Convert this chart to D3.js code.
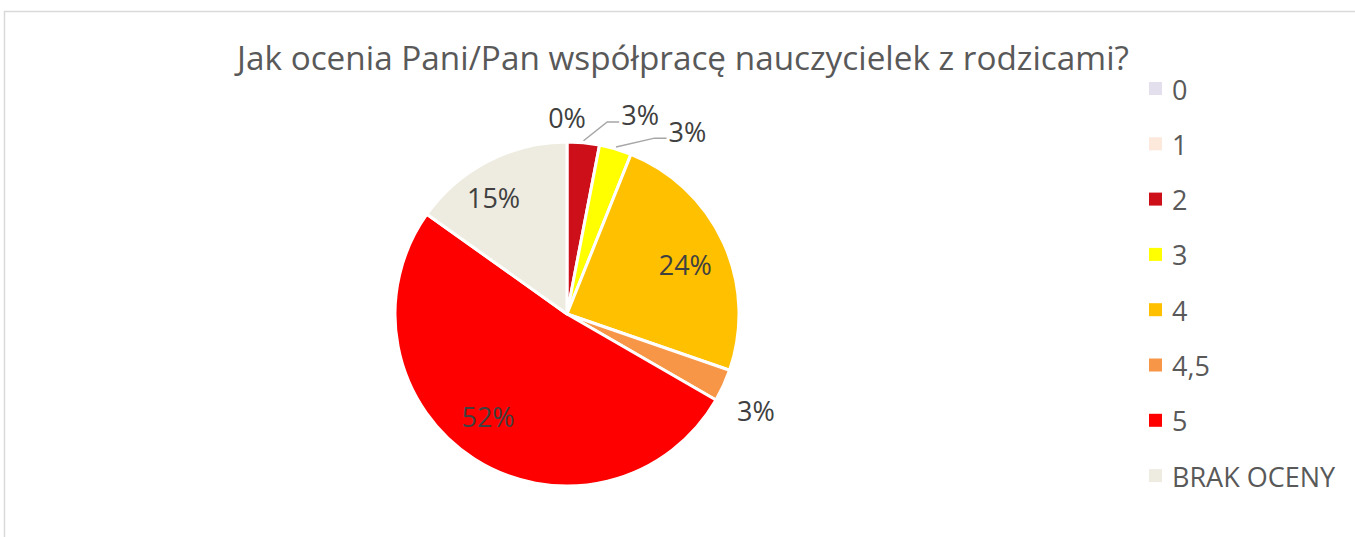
<!DOCTYPE html>
<html>
<head>
<meta charset="utf-8">
<script src="https://cdn.jsdelivr.net/npm/d3@7"></script>
<style>
  body { margin: 0; background: #fff; }
  svg text { font-family: "Open Sans", sans-serif; }
</style>
</head>
<body>
<div id="chart"></div>
<script>
// data (liczba odpowiedzi w kategorii)
var categories = ["0", "1", "2", "3", "4", "4,5", "5", "BRAK OCENY"];
var counts = [0, 0, 1, 1, 8, 1, 17, 5];
var colors = ["#e4dfec", "#fce9db", "#cc0f18", "#ffff00", "#ffc000", "#f79646", "#ff0000", "#eeece1"];
var title = "Jak ocenia Pani/Pan współpracę nauczycielek z rodzicami?";

var width = 1355;
var height = 537;
var cx = 567, cy = 314, radius = 172;

// label placement (angle shift in deg from slice middle, radius factor), like excel best fit
var labelPos = {
    "0": { shift: 0, rf: 1.145 },
    "1": { hidden: true },
    "2": { shift: 14.7, rf: 1.233, leader: true },
    "3": { shift: 17, rf: 1.273, leader: true },
    "4": { shift: 2, rf: 0.745 },
    "4,5": { shift: 2.5, rf: 1.233 },
    "5": { shift: 5, rf: 0.75 },
    "BRAK OCENY": { shift: -5, rf: 0.8 }
};

var svg = d3.select("#chart").append("svg")
    .attr("width", width)
    .attr("height", height);

// chart frame
svg.append("rect")
    .attr("x", 4.5).attr("y", 11.5)
    .attr("width", width + 10).attr("height", height + 10)
    .attr("fill", "none")
    .attr("stroke", "#d9d9d9")
    .attr("stroke-width", 1.5);

svg.append("text")
    .attr("x", 683).attr("y", 57)
    .attr("text-anchor", "middle")
    .attr("dominant-baseline", "central")
    .attr("fill", "#595959")
    .style("font-size", "33.3px")
    .text(title);

var total = d3.sum(counts);
var data = categories.map(function(c, i) { return { cat: c, value: counts[i], color: colors[i] }; });

var pie = d3.pie().sort(null).value(d => d.value);
var arc = d3.arc().innerRadius(0).outerRadius(radius);
var arcs = pie(data);

var g = svg.append("g").attr("transform", `translate(${cx}, ${cy})`);

g.selectAll("path.slice")
    .data(arcs).enter()
    .append("path")
    .attr("class", "slice")
    .attr("d", arc)
    .attr("fill", d => d.data.color)
    .attr("stroke", "#fff")
    .attr("stroke-width", 3)
    .attr("stroke-linejoin", "round");

function polar(angle, r) {
    return [Math.sin(angle) * r, -Math.cos(angle) * r];
}

arcs.forEach(function(d) {
    var mid = (d.startAngle + d.endAngle) / 2;
    var pct = Math.round(d.data.value / total * 100) + "%";
    var opt = labelPos[d.data.cat];
    if (opt.hidden) return;
    var pos = polar(mid + opt.shift * Math.PI / 180, opt.rf * radius);
    var t = g.append("text")
        .attr("x", pos[0]).attr("y", pos[1])
        .attr("text-anchor", "middle")
        .attr("dominant-baseline", "central")
        .attr("fill", "#404040")
        .style("font-size", "27px")
        .text(pct);
    if (opt.leader) {
        var halfW = t.node().getComputedTextLength() / 2;
        var start = polar(mid, radius + 2);
        var ly = pos[1] + 7;
        var lx = pos[0] - halfW;
        g.append("polyline")
            .attr("points", [start, [lx - 14, ly], [lx - 2, ly]].map(p => p.join(",")).join(" "))
            .attr("fill", "none")
            .attr("stroke", "#a6a6a6")
            .attr("stroke-width", 1.5);
    }
});

// legend
var legend = svg.append("g").attr("transform", "translate(1149, 89)");
var item = legend.selectAll("g")
    .data(data).enter()
    .append("g")
    .attr("transform", (d, i) => `translate(0, ${i * 55.3})`);
item.append("rect")
    .attr("x", 0).attr("y", -7)
    .attr("width", 13).attr("height", 13)
    .attr("fill", d => d.color);
item.append("text")
    .attr("x", 23).attr("y", 0)
    .attr("dominant-baseline", "central")
    .attr("fill", "#595959")
    .style("font-size", "27px")
    .text(d => d.cat);
</script>
</body>
</html>
